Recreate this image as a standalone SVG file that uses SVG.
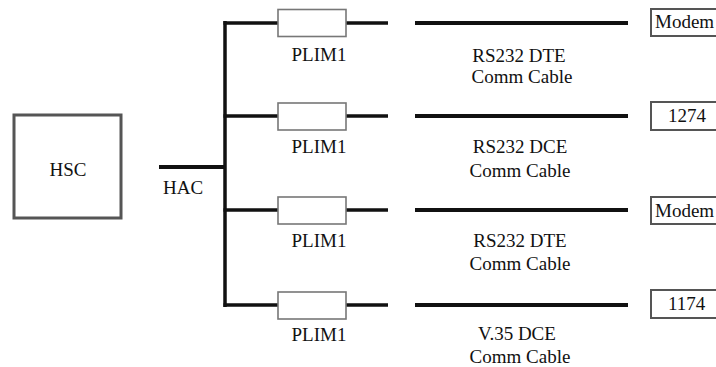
<svg xmlns="http://www.w3.org/2000/svg" width="716" height="367" viewBox="0 0 716 367">
<style>
text{font-family:"Liberation Serif","Times New Roman",serif;font-size:19px;fill:#111}
.m{text-anchor:middle}
.w{stroke:#111;stroke-width:3.5;fill:none}
.c{stroke:#111;stroke-width:4;fill:none}
.p{fill:#fff;stroke:#777;stroke-width:1.6}
.e{fill:#fff;stroke:#555;stroke-width:2}
</style>
<rect width="716" height="367" fill="#fff"/>
<g id="connectors">
<path class="c" d="M159 167H225"/>
<path class="w" d="M225 21V307"/>
<path class="w" d="M223.5 23H278M346 23H388"/>
<path class="w" d="M223.5 116H278M346 116H388"/>
<path class="w" d="M223.5 210H278M346 210H388"/>
<path class="w" d="M223.5 305H278M346 305H388"/>
<path class="c" d="M415 23H628"/>
<path class="c" d="M415 116H628"/>
<path class="c" d="M415 210H628"/>
<path class="c" d="M415 305H628"/>
</g>
<g id="hsc">
<rect x="14" y="115" width="107" height="103" fill="#fff" stroke="#555" stroke-width="3"/>
<text class="m" x="68" y="176">HSC</text>
</g>
<g id="hac"><text class="m" x="183" y="194">HAC</text></g>
<g id="plim1a"><rect class="p" x="278" y="9.5" width="68" height="27"/><text class="m" x="319" y="61">PLIM1</text></g>
<g id="plim1b"><rect class="p" x="278" y="103" width="68" height="27"/><text class="m" x="319" y="153">PLIM1</text></g>
<g id="plim1c"><rect class="p" x="278" y="197" width="68" height="27"/><text class="m" x="319" y="247">PLIM1</text></g>
<g id="plim1d"><rect class="p" x="278" y="292" width="68" height="27"/><text class="m" x="319" y="341">PLIM1</text></g>
<g id="cable1"><text class="m" x="519" y="62">RS232 DTE</text><text class="m" x="522" y="83">Comm Cable</text></g>
<g id="cable2"><text class="m" x="520" y="153">RS232 DCE</text><text class="m" x="520" y="177">Comm Cable</text></g>
<g id="cable3"><text class="m" x="520" y="247">RS232 DTE</text><text class="m" x="520" y="270">Comm Cable</text></g>
<g id="cable4"><text class="m" x="517" y="340">V.35 DCE</text><text class="m" x="520" y="363">Comm Cable</text></g>
<g id="modem1"><rect class="e" x="651" y="9" width="70" height="27"/><text x="655" y="28">Modem</text></g>
<g id="n1274"><rect class="e" x="651" y="102" width="70" height="28"/><text x="668" y="122">1274</text></g>
<g id="modem2"><rect class="e" x="651" y="197" width="70" height="27"/><text x="655" y="217">Modem</text></g>
<g id="n1174"><rect class="e" x="651" y="290" width="70" height="28"/><text x="668" y="310">1174</text></g>
</svg>
